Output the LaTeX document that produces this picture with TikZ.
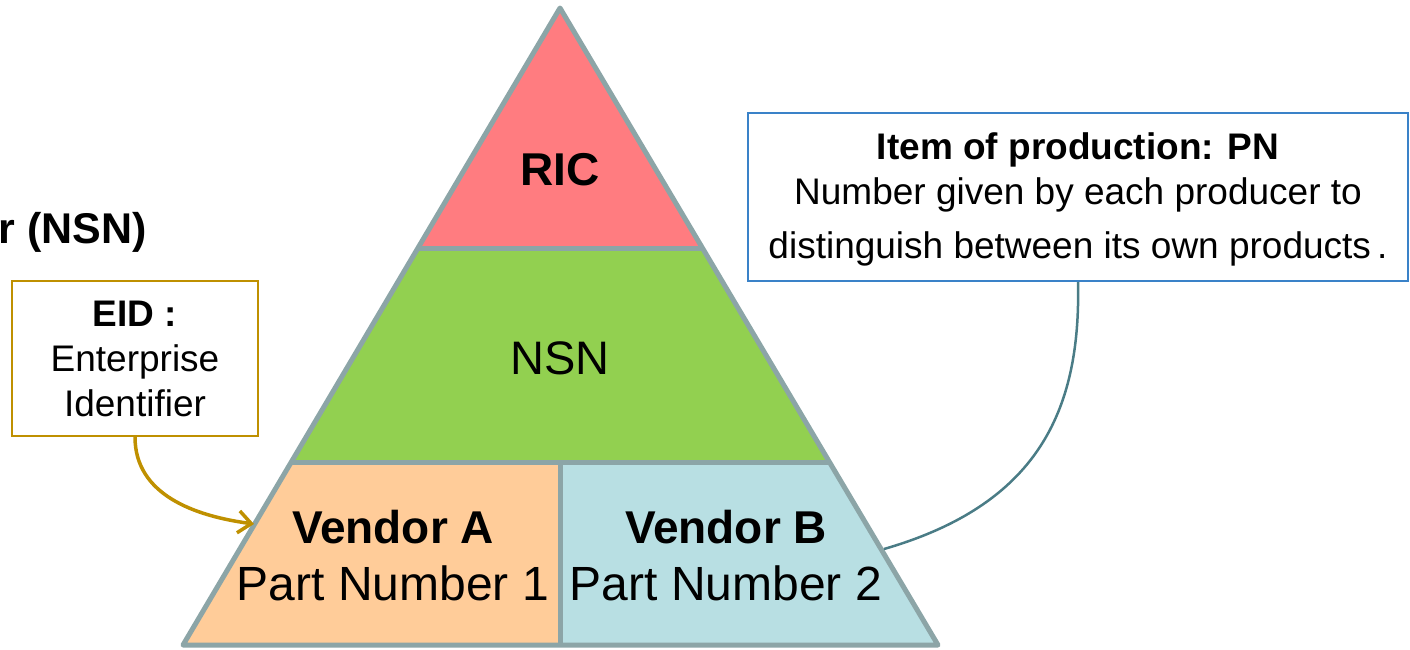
\documentclass[tikz,border=0pt]{standalone}
\usepackage{fontspec}
\setmainfont{Liberation Sans}
\usetikzlibrary{arrows.meta}
\definecolor{rimgray}{HTML}{8CA5A7}
\definecolor{ricred}{HTML}{FF7C80}
\definecolor{nsngreen}{HTML}{92D050}
\definecolor{vendorpeach}{HTML}{FFCC99}
\definecolor{vendorblue}{HTML}{B8DFE3}
\definecolor{eidgold}{HTML}{BF9000}
\definecolor{pnblue}{HTML}{3A82C8}
\definecolor{linkteal}{HTML}{4A7C86}
\tikzset{
  layer/.style={draw=rimgray, line width=5pt, line join=round},
  bigtext/.style={font=\fontsize{47}{57}\selectfont, align=center, inner sep=0pt},
  notebox/.style={draw, line width=2pt, fill=white, align=center,
    font=\fontsize{37}{45}\selectfont, inner sep=0pt},
}
\begin{document}
\begin{tikzpicture}[x=1pt,y=-1pt]
\useasboundingbox (0,0) rectangle (1410,649);

% pyramid corners and band edges
\coordinate (apex) at (560,8);
\coordinate (bl) at (183,645);
\coordinate (br) at (938,645);
\coordinate (r1l) at (418,248);
\coordinate (r1r) at (702,248);
\coordinate (r2l) at (291,462);
\coordinate (r2r) at (829,462);
\coordinate (midtop) at (560,462);
\coordinate (midbot) at (560,645);

% bands
\fill[ricred] (apex) -- (r1r) -- (r1l) -- cycle;
\fill[nsngreen] (r1l) -- (r1r) -- (r2r) -- (r2l) -- cycle;
\fill[vendorpeach] (r2l) -- (midtop) -- (midbot) -- (bl) -- cycle;
\fill[vendorblue] (midtop) -- (r2r) -- (br) -- (midbot) -- cycle;

% outline and separators
\draw[layer] (apex) -- (br) -- (bl) -- cycle;
\draw[layer] (r1l) -- (r1r);
\draw[layer] (r2l) -- (r2r);
\draw[layer] (midtop) -- (midbot);

% band labels
\node[bigtext, font=\fontsize{46}{57}\selectfont\bfseries] (ric) at (560,170) {RIC};
\node[bigtext] (nsn) at (560,358) {NSN};
\node[bigtext] (va) at (393,556) {{\fontsize{46}{57}\selectfont\bfseries Vendor A}\\{\fontsize{48}{57}\selectfont Part Number 1}};
\node[bigtext] (vb) at (726,556) {{\fontsize{46}{57}\selectfont\bfseries Vendor B}\\{\fontsize{48}{57}\selectfont Part Number 2}};

% heading fragment
\node[anchor=east, inner sep=0pt, font=\fontsize{43}{50}\selectfont\bfseries] (title) at (147,232) {r (NSN)};

% enterprise identifier box
\node[notebox, draw=eidgold, minimum width=246pt, minimum height=155pt] (eid) at (135,358.5)
  {\textbf{EID :}\\Enterprise\\Identifier};

% part number box
\node[notebox, draw=pnblue, minimum width=660pt, minimum height=168pt] (pn) at (1078,197) {};
\node[align=center, inner sep=0pt, font=\fontsize{37}{45}\selectfont] (pntext) at (1078,199.5)
  {\textbf{Item of production: PN}\\Number given by each producer to\\[9pt]distinguish between its own products\,.};

% connectors
\coordinate (eidhit) at (254,524);
\coordinate (pnhit) at (884,549);
\draw[eidgold, line width=3.5pt, -{Straight Barb[length=13pt,width=22pt]}]
  (eid.south) .. controls (135,495) and (195,516) .. (eidhit);
\draw[linkteal, line width=2.5pt]
  (pn.south) .. controls (1081,413) and (1036,505) .. (pnhit);
\end{tikzpicture}
\end{document}
